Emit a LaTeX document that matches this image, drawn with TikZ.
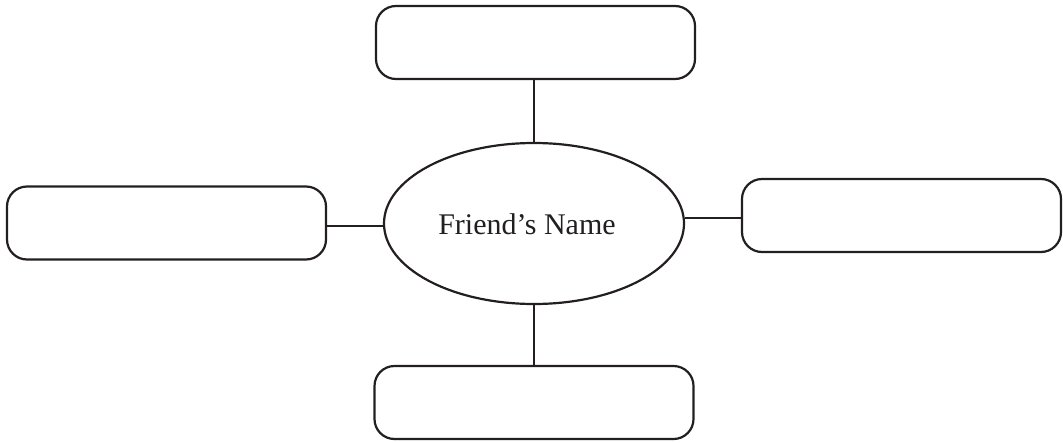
\documentclass[tikz,border=0pt]{standalone}
\usepackage{fontspec}
\setmainfont{Liberation Serif}
\usetikzlibrary{shapes.geometric}
\definecolor{ink}{HTML}{231F20}
\begin{document}
\begin{tikzpicture}[x=1pt,y=-1pt,
  box/.style={draw=ink,line width=2.2pt,rounded corners=20pt,minimum width=319pt,minimum height=73pt,inner sep=0pt},
  hub/.style={draw=ink,line width=2.2pt,ellipse,minimum width=300pt,minimum height=161pt,inner sep=0pt},
  link/.style={draw=ink,line width=2.2pt}]
\useasboundingbox (0,0) rectangle (1063,442);
\node[box] (top) at (535.5,42.5) {};
\node[box] (lb) at (166.5,223) {};
\node[box] (rb) at (901.5,215.5) {};
\node[box] (bb) at (534,402.5) {};
\node[hub] (c) at (534,223.5) {};
\node[text=ink,font=\fontsize{30}{36}\selectfont,inner sep=0pt] (t) at (527,224) {Friend’s Name};
\draw[link] (c.north) -- (c.north |- top.south);
\draw[link] (c.south) -- (c.south |- bb.north);
\draw[link] ([yshift=-3pt]lb.east) -- ([yshift=-3pt]lb.east -| c.west);
\draw[link] ([yshift=-2.5pt]rb.west) -- ([yshift=-2.5pt]rb.west -| c.east);
\end{tikzpicture}
\end{document}
